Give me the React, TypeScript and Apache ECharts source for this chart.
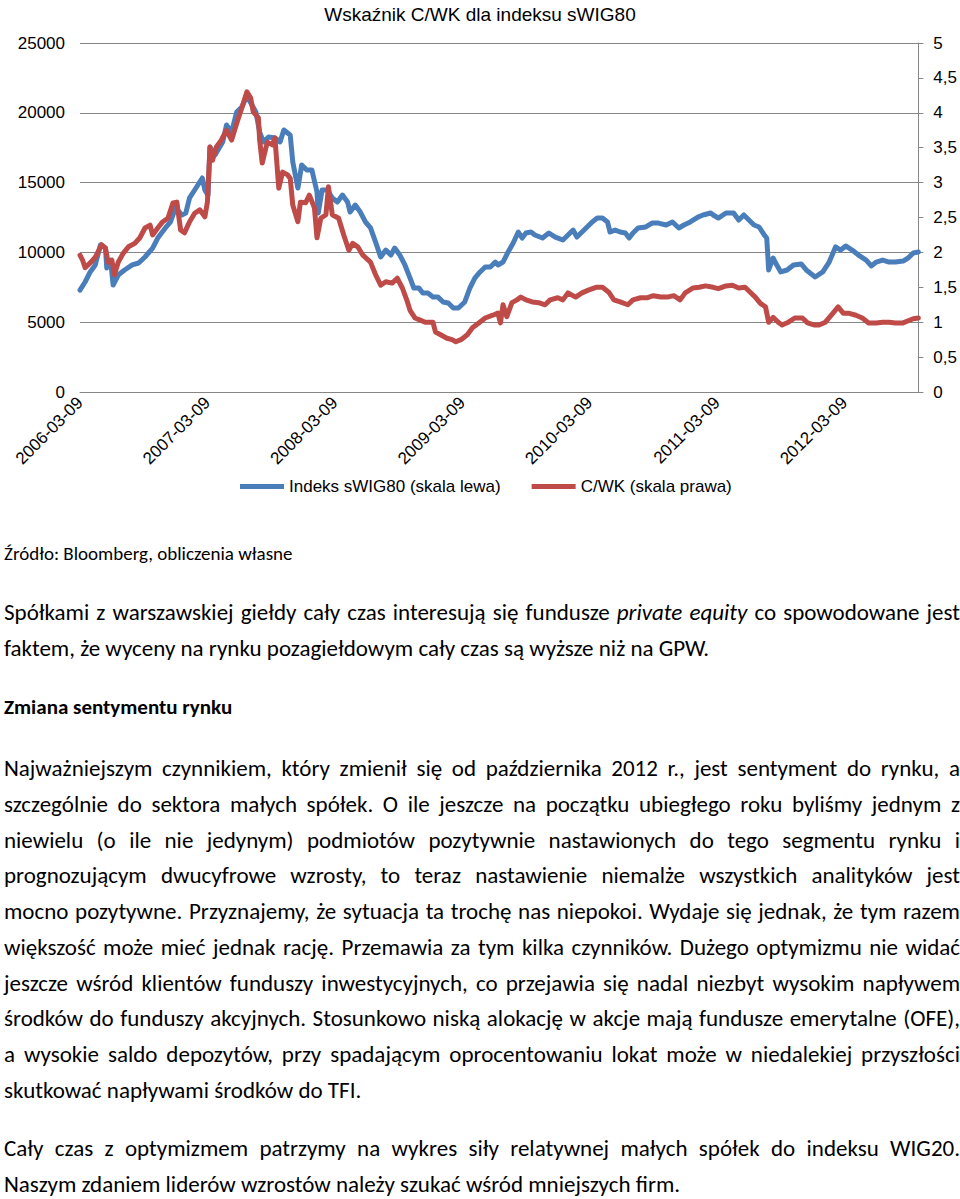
import React, { useEffect, useRef } from "react";
import * as echarts from "echarts";

const chartTitle = "Wskaźnik C/WK dla indeksu sWIG80";
const xTickLabels = ["2006-03-09", "2007-03-09", "2008-03-09", "2009-03-09", "2010-03-09", "2011-03-09", "2012-03-09"];
const seriesNames = ["Indeks sWIG80 (skala lewa)", "C/WK (skala prawa)"];

// [years since 2006-03-09, index level]
const swig80: [number, number][] = [
  [0.00, 7300], [0.04, 7880], [0.08, 8600], [0.12, 9100], [0.16, 10530], [0.20, 10300], [0.21, 8880],
  [0.24, 9450], [0.26, 7660], [0.30, 8380], [0.35, 8740], [0.41, 9100], [0.46, 9240], [0.51, 9670],
  [0.57, 10300], [0.61, 11030], [0.67, 11750], [0.71, 12180], [0.75, 13180], [0.80, 12680], [0.83, 12820],
  [0.86, 13900], [0.90, 14470], [0.96, 15330], [0.98, 14470], [1.005, 14100], [1.02, 17550], [1.06, 16980],
  [1.12, 17910], [1.15, 19130], [1.19, 18620], [1.23, 20060], [1.27, 20410], [1.31, 21200], [1.38, 20060],
  [1.41, 18620], [1.44, 17910], [1.48, 18270], [1.53, 18200], [1.57, 17910], [1.60, 18770], [1.63, 18550],
  [1.65, 18400], [1.67, 16470], [1.71, 14610], [1.74, 16260], [1.78, 15900], [1.82, 15900], [1.86, 14330],
  [1.87, 12820], [1.90, 14470], [1.94, 14470], [1.98, 13900], [2.02, 13610], [2.06, 14110], [2.10, 13610],
  [2.12, 12890], [2.16, 13390], [2.20, 12890], [2.24, 12180], [2.28, 11750], [2.32, 10740], [2.36, 9670],
  [2.40, 10170], [2.44, 9810], [2.47, 10310], [2.51, 9810], [2.55, 9100], [2.59, 8170], [2.62, 7450],
  [2.66, 7450], [2.69, 7090], [2.73, 7090], [2.77, 6800], [2.81, 6800], [2.85, 6450], [2.89, 6380],
  [2.93, 6020], [2.97, 6020], [3.02, 6450], [3.06, 7450], [3.10, 8170], [3.14, 8600], [3.18, 8950],
  [3.22, 8950], [3.26, 9310], [3.28, 9100], [3.32, 9310], [3.36, 10030], [3.40, 10670], [3.44, 11460],
  [3.47, 11030], [3.50, 11390], [3.54, 11460], [3.57, 11250], [3.63, 11030], [3.68, 11390], [3.73, 11100],
  [3.79, 10890], [3.83, 11250], [3.87, 11600], [3.90, 11100], [3.94, 11460], [3.98, 11820], [4.02, 12180],
  [4.06, 12460], [4.10, 12460], [4.14, 12180], [4.16, 11460], [4.20, 11600], [4.24, 11460], [4.28, 11390],
  [4.31, 11030], [4.34, 11390], [4.38, 11750], [4.44, 11820], [4.49, 12100], [4.54, 12100], [4.60, 11960],
  [4.65, 12180], [4.70, 11750], [4.74, 11960], [4.79, 12180], [4.85, 12530], [4.89, 12680], [4.95, 12820],
  [4.97, 12680], [5.01, 12460], [5.07, 12820], [5.13, 12820], [5.17, 12320], [5.21, 12680], [5.25, 12320],
  [5.29, 11960], [5.33, 11820], [5.37, 11250], [5.39, 11030], [5.405, 8740], [5.44, 9600], [5.46, 9240],
  [5.50, 8600], [5.55, 8740], [5.60, 9100], [5.66, 9170], [5.70, 8740], [5.73, 8520], [5.77, 8240],
  [5.83, 8600], [5.88, 9310], [5.93, 10390], [5.97, 10170], [6.01, 10460], [6.06, 10170], [6.11, 9810],
  [6.17, 9450], [6.21, 9030], [6.25, 9310], [6.30, 9450], [6.35, 9310], [6.40, 9310], [6.46, 9380],
  [6.50, 9600], [6.54, 9960], [6.58, 10030],
];

// [years since 2006-03-09, price-to-book ratio]
const cwk: [number, number][] = [
  [0.00, 1.96], [0.02, 1.89], [0.04, 1.78], [0.08, 1.85], [0.12, 1.93], [0.17, 2.11], [0.20, 2.06],
  [0.22, 1.86], [0.25, 1.89], [0.27, 1.68], [0.30, 1.86], [0.34, 1.99], [0.38, 2.08], [0.43, 2.13],
  [0.47, 2.21], [0.51, 2.35], [0.55, 2.39], [0.57, 2.25], [0.61, 2.35], [0.65, 2.44], [0.69, 2.49],
  [0.73, 2.71], [0.76, 2.72], [0.79, 2.32], [0.82, 2.28], [0.86, 2.44], [0.90, 2.56], [0.94, 2.61],
  [0.98, 2.51], [1.00, 2.72], [1.02, 3.51], [1.04, 3.32], [1.07, 3.51], [1.11, 3.61], [1.15, 3.75],
  [1.19, 3.61], [1.23, 3.85], [1.27, 4.07], [1.31, 4.30], [1.34, 4.21], [1.36, 4.01], [1.40, 3.93],
  [1.41, 3.61], [1.43, 3.28], [1.47, 3.58], [1.51, 3.54], [1.53, 3.64], [1.56, 2.92], [1.59, 3.15],
  [1.63, 3.11], [1.65, 3.06], [1.67, 2.68], [1.71, 2.44], [1.73, 2.72], [1.77, 2.71], [1.80, 2.82],
  [1.84, 2.64], [1.86, 2.21], [1.89, 2.49], [1.93, 2.54], [1.95, 2.94], [1.98, 2.54], [2.03, 2.49],
  [2.07, 2.25], [2.11, 2.03], [2.14, 2.13], [2.18, 2.08], [2.22, 1.96], [2.28, 1.86], [2.32, 1.68],
  [2.36, 1.53], [2.40, 1.58], [2.45, 1.56], [2.49, 1.63], [2.53, 1.49], [2.57, 1.29], [2.59, 1.17],
  [2.63, 1.06], [2.67, 1.03], [2.71, 1.00], [2.77, 1.00], [2.79, 0.86], [2.83, 0.82], [2.88, 0.77],
  [2.92, 0.75], [2.95, 0.72], [2.99, 0.75], [3.04, 0.82], [3.08, 0.92], [3.13, 0.99], [3.18, 1.06],
  [3.24, 1.10], [3.28, 1.13], [3.30, 0.99], [3.32, 1.25], [3.35, 1.08], [3.39, 1.28], [3.43, 1.32],
  [3.46, 1.36], [3.50, 1.32], [3.55, 1.29], [3.60, 1.28], [3.65, 1.25], [3.69, 1.32], [3.75, 1.35],
  [3.79, 1.32], [3.83, 1.42], [3.89, 1.36], [3.94, 1.42], [3.99, 1.46], [4.05, 1.50], [4.10, 1.50],
  [4.15, 1.43], [4.19, 1.32], [4.24, 1.29], [4.30, 1.25], [4.34, 1.32], [4.40, 1.35], [4.45, 1.35],
  [4.50, 1.38], [4.56, 1.36], [4.61, 1.36], [4.66, 1.38], [4.71, 1.32], [4.75, 1.42], [4.81, 1.49],
  [4.86, 1.50], [4.91, 1.52], [4.97, 1.50], [5.01, 1.48], [5.07, 1.52], [5.12, 1.53], [5.17, 1.49],
  [5.22, 1.50], [5.26, 1.43], [5.30, 1.36], [5.34, 1.27], [5.38, 1.22], [5.405, 1.00], [5.44, 1.07],
  [5.48, 1.00], [5.51, 0.96], [5.56, 1.00], [5.61, 1.06], [5.67, 1.06], [5.71, 0.99], [5.76, 0.96],
  [5.80, 0.96], [5.85, 1.00], [5.91, 1.13], [5.95, 1.22], [5.99, 1.13], [6.03, 1.13], [6.09, 1.10],
  [6.14, 1.06], [6.19, 0.99], [6.25, 0.99], [6.30, 1.00], [6.35, 1.00], [6.40, 0.99], [6.46, 0.99],
  [6.50, 1.02], [6.54, 1.05], [6.58, 1.06],
];

const sourceNote = "Źródło: Bloomberg, obliczenia własne";
const headingText = "Zmiana sentymentu rynku";

type Line = { y: number; parts: { t: string; i?: boolean }[]; justify: boolean; bold?: boolean };

const bodyLines: Line[] = [
  { y: 612, justify: true, parts: [{ t: "Spółkami z warszawskiej giełdy cały czas interesują się fundusze " }, { t: "private equity", i: true }, { t: " co spowodowane jest" }] },
  { y: 648, justify: false, parts: [{ t: "faktem, że wyceny na rynku pozagiełdowym cały czas są wyższe niż na GPW." }] },
  { y: 707, justify: false, bold: true, parts: [{ t: headingText }] },
  { y: 768, justify: true, parts: [{ t: "Najważniejszym czynnikiem, który zmienił się od października 2012 r., jest sentyment do rynku, a" }] },
  { y: 804, justify: true, parts: [{ t: "szczególnie do sektora małych spółek. O ile jeszcze na początku ubiegłego roku byliśmy jednym z" }] },
  { y: 840, justify: true, parts: [{ t: "niewielu (o ile nie jedynym) podmiotów pozytywnie nastawionych do tego segmentu rynku i" }] },
  { y: 875, justify: true, parts: [{ t: "prognozującym dwucyfrowe wzrosty, to teraz nastawienie niemalże wszystkich analityków jest" }] },
  { y: 911, justify: true, parts: [{ t: "mocno pozytywne. Przyznajemy, że sytuacja ta trochę nas niepokoi. Wydaje się jednak, że tym razem" }] },
  { y: 947, justify: true, parts: [{ t: "większość może mieć jednak rację. Przemawia za tym kilka czynników. Dużego optymizmu nie widać" }] },
  { y: 983, justify: true, parts: [{ t: "jeszcze wśród klientów funduszy inwestycyjnych, co przejawia się nadal niezbyt wysokim napływem" }] },
  { y: 1018, justify: true, parts: [{ t: "środków do funduszy akcyjnych. Stosunkowo niską alokację w akcje mają fundusze emerytalne (OFE)," }] },
  { y: 1054, justify: true, parts: [{ t: "a wysokie saldo depozytów, przy spadającym oprocentowaniu lokat może w niedalekiej przyszłości" }] },
  { y: 1090, justify: false, parts: [{ t: "skutkować napływami środków do TFI." }] },
  { y: 1148, justify: true, parts: [{ t: "Cały czas z optymizmem patrzymy na wykres siły relatywnej małych spółek do indeksu WIG20." }] },
  { y: 1184, justify: false, parts: [{ t: "Naszym zdaniem liderów wzrostów należy szukać wśród mniejszych firm." }] },
];

const chartFont = "'Liberation Sans', Arial, sans-serif";
const textFont = "Carlito, Calibri, Lato, 'Open Sans', sans-serif";

function Chart() {
  const ref = useRef<HTMLDivElement>(null);
  useEffect(() => {
    if (!ref.current) return;
    const chart = echarts.init(ref.current, undefined, { renderer: "svg" });
    chart.setOption({
      animation: false,
      textStyle: { fontFamily: chartFont },
      title: {
        text: chartTitle,
        left: "center",
        top: 0,
        textStyle: { fontFamily: chartFont, fontSize: 19, fontWeight: "normal", color: "#000" },
      },
      grid: { left: 80, right: 41, top: 43, bottom: 108 },
      legend: {
        data: seriesNames,
        left: 235,
        top: 473,
        icon: "rect",
        itemWidth: 44,
        itemHeight: 5,
        itemGap: 31,
        textStyle: { fontFamily: chartFont, fontSize: 17, color: "#000" },
      },
      xAxis: {
        type: "value",
        min: 0,
        max: 6.58,
        interval: 1,
        axisLine: { show: true, lineStyle: { color: "#868686", width: 1 } },
        axisTick: { show: false },
        splitLine: { show: false },
        axisLabel: {
          rotate: 45,
          fontSize: 17,
          color: "#000",
          margin: 8,
          showMaxLabel: false,
          formatter: (v: number) => (Math.abs(v - Math.round(v)) < 1e-6 ? xTickLabels[Math.round(v)] ?? "" : ""),
        },
      },
      yAxis: [
        {
          type: "value",
          min: 0,
          max: 25000,
          interval: 5000,
          axisLine: { show: false },
          axisTick: { show: false },
          splitLine: { show: true, lineStyle: { color: "#868686", width: 1 } },
          axisLabel: { fontSize: 17, color: "#000", margin: 15, formatter: (v: number) => String(v) },
        },
        {
          type: "value",
          position: "right",
          min: 0,
          max: 5,
          interval: 0.5,
          axisLine: { show: true, lineStyle: { color: "#868686", width: 1 } },
          axisTick: { show: true, length: 5, lineStyle: { color: "#868686" } },
          splitLine: { show: false },
          axisLabel: {
            fontSize: 17,
            color: "#000",
            margin: 15,
            formatter: (v: number) => String(v).replace(".", ","),
          },
        },
      ],
      series: [
        {
          name: seriesNames[0],
          type: "line",
          yAxisIndex: 0,
          data: swig80,
          showSymbol: false,
          symbol: "none",
          color: "#4A7EBB",
          lineStyle: { width: 5, color: "#4A7EBB", join: "round", cap: "round" },
        },
        {
          name: seriesNames[1],
          type: "line",
          yAxisIndex: 1,
          data: cwk,
          showSymbol: false,
          symbol: "none",
          color: "#BE4B48",
          lineStyle: { width: 5, color: "#BE4B48", join: "round", cap: "round" },
        },
      ],
    });
    return () => chart.dispose();
  }, []);
  return <div ref={ref} style={{ position: "absolute", left: 0, top: 0, width: 960, height: 500 }} />;
}

export default function App() {
  return (
    <div style={{ position: "absolute", left: 0, top: 0, width: 960, height: 1199, background: "#fff", overflow: "hidden" }}>
      <Chart />
      <div
        style={{
          position: "absolute",
          left: 4,
          top: 554 - 15,
          height: 30,
          lineHeight: "30px",
          fontFamily: textFont,
          fontSize: 19,
          color: "#000",
          whiteSpace: "nowrap",
        }}
      >
        {sourceNote}
      </div>
      {bodyLines.map((ln, k) => (
        <div
          key={k}
          style={{
            position: "absolute",
            left: 4,
            width: 956,
            top: ln.y - 18,
            height: 36,
            lineHeight: "36px",
            fontFamily: textFont,
            fontSize: ln.bold ? 21 : 23,
            fontWeight: ln.bold ? 700 : 400,
            color: "#000",
            textAlign: ln.justify ? "justify" : "left",
            textAlignLast: ln.justify ? "justify" : "left",
            whiteSpace: "nowrap",
          } as React.CSSProperties}
        >
          {ln.parts.map((p, j) => (p.i ? <i key={j}>{p.t}</i> : <span key={j}>{p.t}</span>))}
        </div>
      ))}
    </div>
  );
}
